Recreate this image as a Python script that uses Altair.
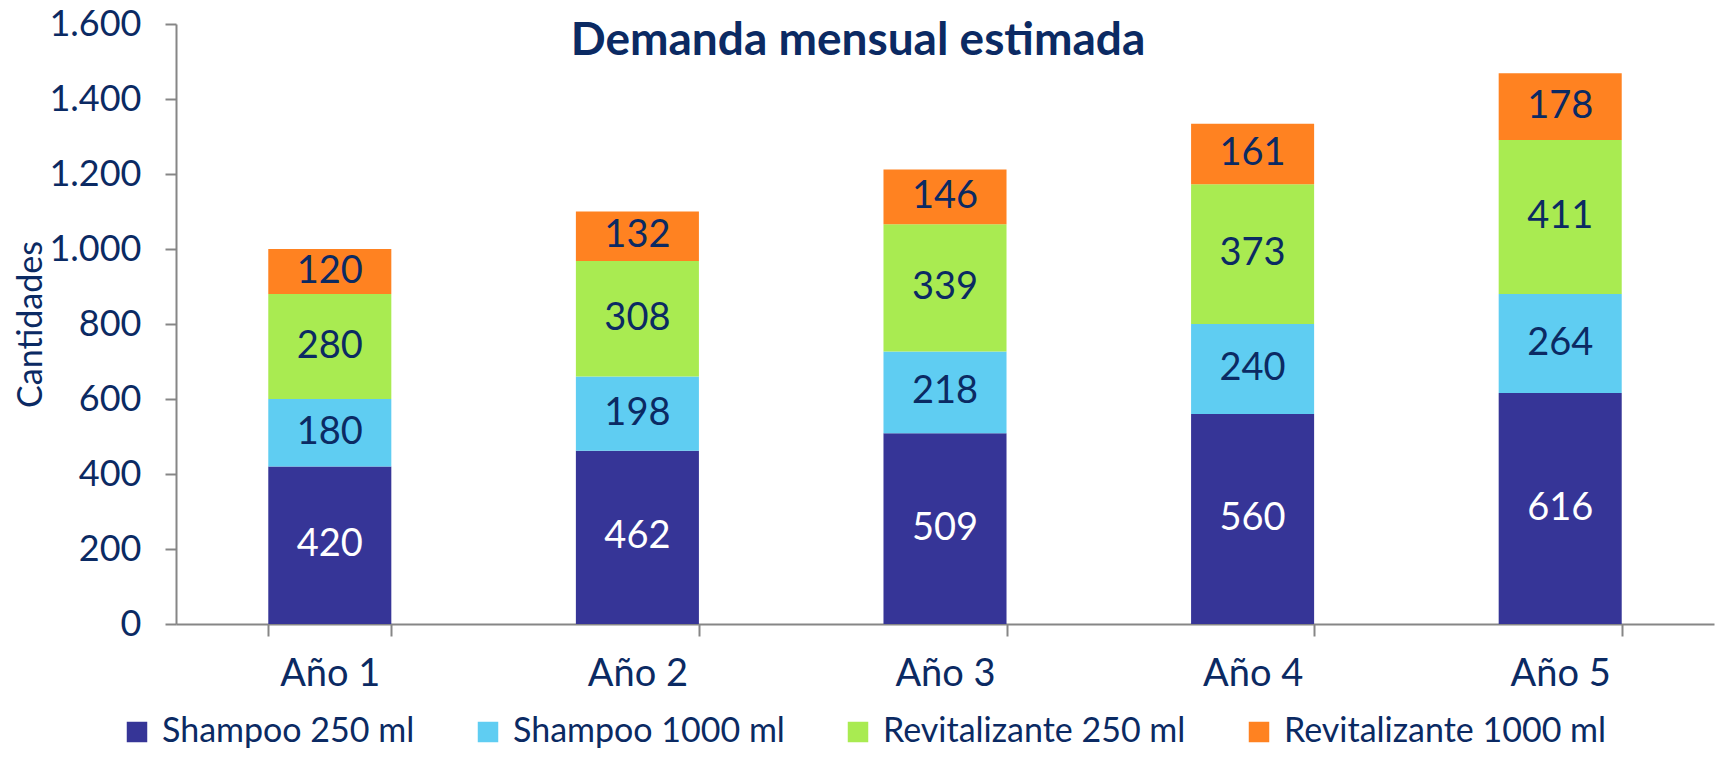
import altair as alt
import pandas as pd

years = ["Año 1", "Año 2", "Año 3", "Año 4", "Año 5"]
products = ["Shampoo 250 ml", "Shampoo 1000 ml", "Revitalizante 250 ml", "Revitalizante 1000 ml"]
shampoo_250 = [420, 462, 509, 560, 616]
shampoo_1000 = [180, 198, 218, 240, 264]
revit_250 = [280, 308, 339, 373, 411]
revit_1000 = [120, 132, 146, 161, 178]
colors = ["#363597", "#5FCDF2", "#A9EB51", "#FF8221"]
y_ticks = [0, 200, 400, 600, 800, 1000, 1200, 1400, 1600]
title_text = "Demanda mensual estimada"
y_title = "Cantidades"

series = [shampoo_250, shampoo_1000, revit_250, revit_1000]
rows = []
for k, (p, vals) in enumerate(zip(products, series)):
    for y, v in zip(years, vals):
        rows.append({"year": y, "product": p, "value": v, "order": k})
df = pd.DataFrame(rows)

NAVY = "#0B2A63"
FONT = "Lato"
AXIS_GRAY = "#868686"

x_enc = alt.X(
    "year:N",
    sort=years,
    scale=alt.Scale(paddingInner=0.6, paddingOuter=0.3),
    axis=alt.Axis(
        title=None,
        labelFont=FONT,
        labelFontSize=38,
        labelColor=NAVY,
        labelAngle=0,
        labelBaseline="alphabetic",
        labelPadding=49,
        tickBand="extent",
        tickSize=12,
        tickColor=AXIS_GRAY,
        tickWidth=2,
        domainColor=AXIS_GRAY,
        domainWidth=2,
        grid=False,
    ),
)

bars = alt.Chart(df).mark_bar().encode(
    x=x_enc,
    y=alt.Y(
        "value:Q",
        stack="zero",
        scale=alt.Scale(domain=[0, 1600], nice=False),
        axis=alt.Axis(
            values=y_ticks,
            title=y_title,
            titleFont=FONT,
            titleFontSize=34,
            titleFontWeight="normal",
            titleColor=NAVY,
            titleX=-145,
            titleY=300,
            titleAngle=-90,
            titleAlign="center",
            titleBaseline="middle",
            labelFont=FONT,
            labelFontSize=36,
            labelColor=NAVY,
            labelPadding=24,
            labelExpr="replace(format(datum.value, ','), ',', '.')",
            tickSize=11,
            tickColor=AXIS_GRAY,
            tickWidth=2,
            domainColor=AXIS_GRAY,
            domainWidth=2,
            grid=False,
        ),
    ),
    color=alt.Color(
        "product:N",
        sort=products,
        scale=alt.Scale(domain=products, range=colors),
        legend=alt.Legend(
            title=None,
            orient="none",
            direction="horizontal",
            legendX=-56,
            legendY=691,
            symbolType="square",
            symbolSize=420,
            symbolStrokeWidth=0,
            symbolOpacity=1,
            labelFont=FONT,
            labelFontSize=34,
            labelColor=NAVY,
            labelOffset=8,
            labelLimit=0,
            columnPadding=56,
            padding=0,
        ),
    ),
    order=alt.Order("order:Q"),
)

labels = (
    alt.Chart(df)
    .transform_stack(
        stack="value",
        groupby=["year"],
        as_=["y0", "y1"],
        sort=[alt.SortField("order", order="ascending")],
    )
    .transform_calculate(mid="(datum.y0 + datum.y1) / 2")
    .mark_text(font=FONT, fontSize=38, baseline="middle", align="center")
    .encode(
        x=alt.X("year:N", sort=years),
        y=alt.Y("mid:Q"),
        text=alt.Text("value:Q"),
        color=alt.condition(
            alt.FieldEqualPredicate(field="product", equal="Shampoo 250 ml"),
            alt.value("white"),
            alt.value(NAVY),
        ),
    )
)

title = (
    alt.Chart(pd.DataFrame({"t": [title_text]}))
    .mark_text(font=FONT, fontSize=46, fontWeight="bold", color=NAVY, align="center", baseline="alphabetic")
    .encode(text="t:N", x=alt.value(682), y=alt.value(31))
)

chart = (
    alt.layer(bars, labels, title)
    .properties(
        width=1538,
        height=600,
        autosize=alt.AutoSizeParams(type="none"),
        padding={"left": 168, "top": 16, "right": 3, "bottom": 127},
    )
    .configure_view(stroke=None)
)

chart.save("out.html", embed_options={"renderer": "svg", "actions": False})
